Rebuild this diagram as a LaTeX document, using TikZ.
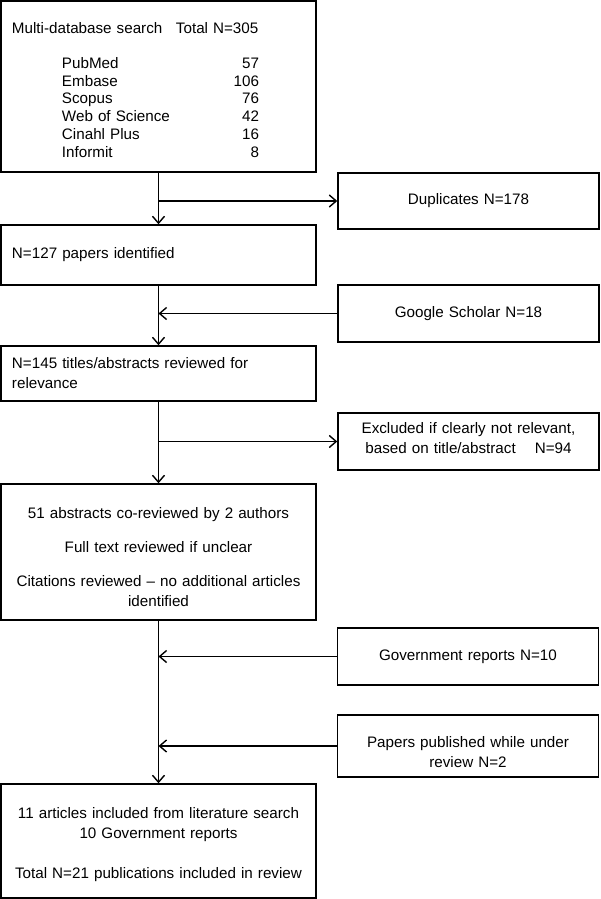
\documentclass[tikz,border=0pt]{standalone}
\usepackage{fontspec}
\setmainfont{Liberation Sans}
\usetikzlibrary{arrows.meta}

\begin{document}
\begin{tikzpicture}[x=1pt, y=-1pt,
    box/.style={draw, line width=1.4pt, minimum width=315pt, text width=293pt,
        inner xsep=11pt, inner ysep=0pt, font=\fontsize{15.2}{20}\selectfont},
    side/.style={draw, line width=1.4pt, minimum width=261pt, text width=239pt,
        inner xsep=11pt, inner ysep=0pt, align=center, font=\fontsize{15.2}{20}\selectfont},
    arr/.style={line width=1.4pt, -{Straight Barb[length=7pt,width=12pt,line width=1.4pt]}}]
    \useasboundingbox (0,0) rectangle (600,899);

    % Define main boxes
    \node[box, align=left, minimum height=171pt, font=\fontsize{15.2}{17.7}\selectfont] (search) at (158.5,86.5)
        {\rule{0pt}{17.5pt}\makebox[164pt][l]{Multi-database search}Total N=305\\[17.5pt]
         \hspace*{50pt}\makebox[197pt]{PubMed\hfill 57}\\
         \hspace*{50pt}\makebox[197pt]{Embase\hfill 106}\\
         \hspace*{50pt}\makebox[197pt]{Scopus\hfill 76}\\
         \hspace*{50pt}\makebox[197pt]{Web of Science\hfill 42}\\
         \hspace*{50pt}\makebox[197pt]{Cinahl Plus\hfill 16}\\
         \hspace*{50pt}\makebox[197pt]{Informit\hfill 8}};
    \node[box, align=left, minimum height=60pt] (identified) at (158.5,255) {N=127 papers identified};
    \node[box, align=left, minimum height=55pt] (titles) at (158.5,373.5)
        {N=145 titles/abstracts reviewed for\\relevance};
    \node[box, align=center, minimum height=136pt] (coreview) at (158.5,552)
        {\rule{0pt}{21pt}51 abstracts co-reviewed by 2 authors\\[14pt]
         Full text reviewed if unclear\\[14pt]
         Citations reviewed -- no additional articles\\identified};
    \node[box, align=center, minimum height=114pt] (included) at (158.5,841)
        {\rule{0pt}{19pt}11 articles included from literature search\\
         10 Government reports\\[20pt]
         Total N=21 publications included in review};

    % Define side boxes
    \node[side, minimum height=56pt] (duplicates) at (468.5,201) {Duplicates N=178};
    \node[side, minimum height=57pt] (scholar) at (468.5,313.5) {Google Scholar N=18};
    \node[side, minimum height=57pt] (excluded) at (468.5,441.5)
        {Excluded if clearly not relevant,\\based on title/abstract\hspace{14pt} N=94\rule[-8pt]{0pt}{0pt}};
    \node[side, minimum height=57pt] (government) at (468,656.5) {Government reports N=10};
    \node[side, minimum height=62pt] (papers) at (468,746)
        {\rule{0pt}{24pt}Papers published while under\\review N=2};

    % Draw main flow
    \draw[arr] (search) -- (identified);
    \draw[arr] (identified) -- (titles);
    \draw[arr] (titles) -- (coreview);
    \draw[arr] (coreview) -- (included);

    % Draw side arrows
    \draw[arr] (search.south |- duplicates.west) -- (duplicates.west);
    \draw[arr] (scholar.west) -- (scholar.west -| identified.south);
    \draw[arr] (titles.south |- excluded.west) -- (excluded.west);
    \draw[arr] (government.west) -- (government.west -| coreview.south);
    \draw[arr] (papers.west) -- (papers.west -| coreview.south);
\end{tikzpicture}
\end{document}
